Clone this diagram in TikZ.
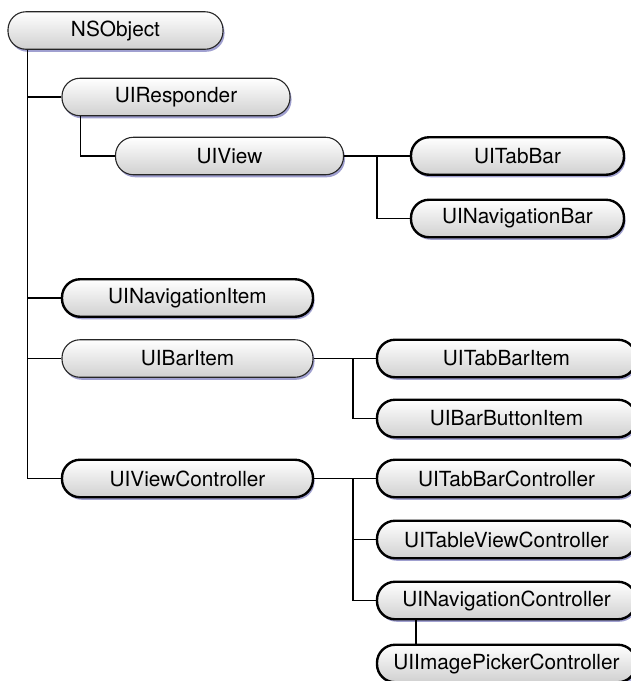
\documentclass[tikz,border=0pt]{standalone}
\usepackage{fontspec}
\setmainfont{TeX Gyre Heros}
\usetikzlibrary{shadows}
\definecolor{lavshadow}{HTML}{A0A0D0}
\definecolor{pillbottom}{HTML}{D0D0D0}
\tikzset{
  pill/.style={
    rounded corners=18pt, minimum height=37.5pt, inner sep=0pt,
    top color=white, bottom color=pillbottom, draw=black!85,
    font=\fontsize{20.8}{24}\selectfont,
    drop shadow={shadow xshift=1.5pt, shadow yshift=-2.5pt, fill=lavshadow, opacity=1}
  },
  thinpill/.style={pill, line width=1.1pt},
  thickpill/.style={pill, line width=2.4pt, draw=black},
  link/.style={line width=1.8pt, black}
}
\begin{document}
\begin{tikzpicture}[x=1pt, y=-1pt]
  \useasboundingbox (0,0) rectangle (631,681);
  \clip (0,0) rectangle (631,681);

  % class boxes: left edge + width, centred on each row
  \node[thinpill,  minimum width=215pt] (nsobj)    at (115.5,30.5)  {NSObject};
  \node[thinpill,  minimum width=228pt] (resp)     at (176,97)      {UIResponder};
  \node[thinpill,  minimum width=228pt] (view)     at (229.5,156)   {UIView};
  \node[thickpill, minimum width=213pt] (tabbar)   at (517.5,156)   {UITabBar};
  \node[thickpill, minimum width=213pt] (navbar)   at (517.5,218.5) {UINavigationBar};
  \node[thickpill, minimum width=251pt] (navitem)  at (187.5,298)   {UINavigationItem};
  \node[thinpill,  minimum width=251pt] (baritem)  at (187.5,358.5) {UIBarItem};
  \node[thickpill, minimum width=259pt] (tabitem)  at (506.5,358.5) {UITabBarItem};
  \node[thickpill, minimum width=259pt] (btnitem)  at (506.5,418.5) {UIBarButtonItem};
  \node[thickpill, minimum width=251pt] (vc)       at (187.5,478.5) {UIViewController};
  \node[thickpill, minimum width=259pt] (tabctl)   at (506.5,478.5) {UITabBarController};
  \node[thickpill, minimum width=259pt] (tblctl)   at (506.5,539.5) {UITableViewController};
  \node[thickpill, minimum width=259pt] (navctl)   at (506.5,600.5) {UINavigationController};
  \node[thickpill, minimum width=259pt] (picker)   at (506.5,663.5) {UIImagePickerController};

  % NSObject trunk and its direct subclasses
  \draw[link] ([xshift=20pt]nsobj.south west) |- (resp.west);
  \draw[link] ([xshift=20pt]nsobj.south west) |- (navitem.west);
  \draw[link] ([xshift=20pt]nsobj.south west) |- (baritem.west);
  \draw[link] ([xshift=20pt]nsobj.south west) |- (vc.west);

  % UIResponder -> UIView
  \draw[link] ([xshift=19pt]resp.south west) |- (view.west);

  % UIView subclasses
  \draw[link] (view.east) -- (tabbar.west);
  \draw[link] ([xshift=-33pt]tabbar.west) |- (navbar.west);

  % UIBarItem subclasses
  \draw[link] (baritem.east) -- (tabitem.west);
  \draw[link] ([xshift=-23pt]tabitem.west) |- (btnitem.west);

  % UIViewController subclasses
  \draw[link] (vc.east) -- (tabctl.west);
  \draw[link] ([xshift=-23pt]tabctl.west) |- (tblctl.west);
  \draw[link] ([xshift=-23pt]tabctl.west) |- (navctl.west);

  % UINavigationController -> UIImagePickerController
  \draw[link] ([xshift=40pt]navctl.south west) -- ([xshift=40pt]picker.north west);
\end{tikzpicture}
\end{document}
